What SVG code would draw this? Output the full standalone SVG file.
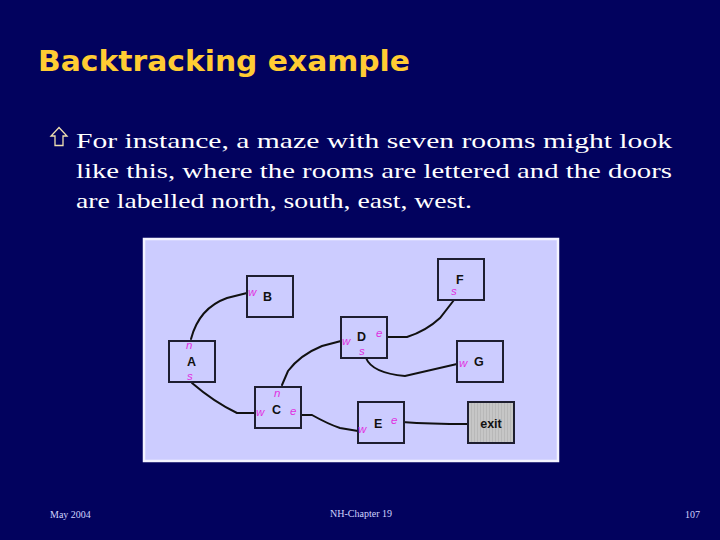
<svg xmlns="http://www.w3.org/2000/svg" width="720" height="540" viewBox="0 0 720 540">
<style>
.room{fill:#CCCCFF;stroke:#1E1E30;stroke-width:2}
.lbl{font-family:"Liberation Sans",Arial,sans-serif;font-weight:bold;font-size:12.5px;fill:#111}
.door{font-family:"Liberation Sans",Arial,sans-serif;font-style:italic;font-size:11.5px;fill:#E030E0}
.con{fill:none;stroke:#111;stroke-width:2;stroke-linecap:round}
.body{font-family:"Liberation Serif","Times New Roman",serif;font-size:22px;fill:#FFFFFF}
.foot{font-family:"Liberation Serif","Times New Roman",serif;font-size:10px;fill:#D0D4FF}
</style>
<defs>
<pattern id="stripes" width="3" height="10" patternUnits="userSpaceOnUse">
<rect width="3" height="10" fill="#C6C6C6"/>
<rect width="1" height="10" fill="#B8B8B8"/>
</pattern>
</defs>
<rect width="720" height="540" fill="#02025E"/>
<text x="38" y="71" font-family="'DejaVu Sans',Verdana,sans-serif" font-weight="bold" font-size="28" fill="#FFCC33" textLength="372" lengthAdjust="spacingAndGlyphs">Backtracking example</text>
<path d="M59,127.5 L67,136 L63,136 L63,145.5 L55,145.5 L55,136 L51,136 Z" fill="none" stroke="#F0E0B0" stroke-width="1.3"/>
<text class="body" x="76" y="148" textLength="596" lengthAdjust="spacingAndGlyphs">For instance, a maze with seven rooms might look</text>
<text class="body" x="76" y="178" textLength="596" lengthAdjust="spacingAndGlyphs">like this, where the rooms are lettered and the doors</text>
<text class="body" x="76" y="208" textLength="396" lengthAdjust="spacingAndGlyphs">are labelled north, south, east, west.</text>
<rect x="144" y="239" width="414" height="222" fill="#CCCCFF" stroke="#F4F4FF" stroke-width="2.5"/>
<g id="connectors">
<path class="con" d="M191,339 Q199,308 227,298 L247,293"/>
<path class="con" d="M192,383 Q214,402 237,413 L255,413"/>
<path class="con" d="M282,385 L288,371 Q300,355 322,346 L341,341"/>
<path class="con" d="M301,415 L312,415 Q328,424 340,428 L358,431"/>
<path class="con" d="M387,337 L407,337 Q426,331 440,318 L454,300"/>
<path class="con" d="M366,358 Q372,373 405,376 L457,364"/>
<path class="con" d="M402,422 Q430,424 468,424"/>
</g>
<g id="room-B">
<rect class="room" x="247" y="276" width="46" height="41"/>
<text class="door" x="248" y="296">w</text>
<text class="lbl" x="263" y="301">B</text>
</g>
<g id="room-A">
<rect class="room" x="169" y="341" width="46" height="41"/>
<text class="door" x="186" y="349">n</text>
<text class="lbl" x="187" y="366">A</text>
<text class="door" x="187" y="380">s</text>
</g>
<g id="room-C">
<rect class="room" x="255" y="387" width="46" height="41"/>
<text class="door" x="274" y="397">n</text>
<text class="door" x="256" y="416">w</text>
<text class="lbl" x="272" y="414">C</text>
<text class="door" x="290" y="415">e</text>
</g>
<g id="room-D">
<rect class="room" x="341" y="317" width="46" height="41"/>
<text class="door" x="342" y="345">w</text>
<text class="lbl" x="357" y="341">D</text>
<text class="door" x="359" y="355">s</text>
<text class="door" x="376" y="337">e</text>
</g>
<g id="room-F">
<rect class="room" x="438" y="259" width="46" height="41"/>
<text class="lbl" x="456" y="284">F</text>
<text class="door" x="451" y="295">s</text>
</g>
<g id="room-G">
<rect class="room" x="457" y="341" width="46" height="41"/>
<text class="door" x="459" y="367">w</text>
<text class="lbl" x="474" y="366">G</text>
</g>
<g id="room-E">
<rect class="room" x="358" y="402" width="46" height="41"/>
<text class="door" x="358" y="433">w</text>
<text class="lbl" x="374" y="428">E</text>
<text class="door" x="391" y="424">e</text>
</g>
<g id="room-exit">
<rect x="468" y="402" width="46" height="41" fill="url(#stripes)" stroke="#1E1E30" stroke-width="2"/>
<text class="lbl" x="491" y="428" text-anchor="middle" font-size="12">exit</text>
</g>
<text class="foot" x="50" y="518">May 2004</text>
<text class="foot" x="361" y="517" text-anchor="middle">NH-Chapter 19</text>
<text class="foot" x="700" y="518" text-anchor="end">107</text>
</svg>
